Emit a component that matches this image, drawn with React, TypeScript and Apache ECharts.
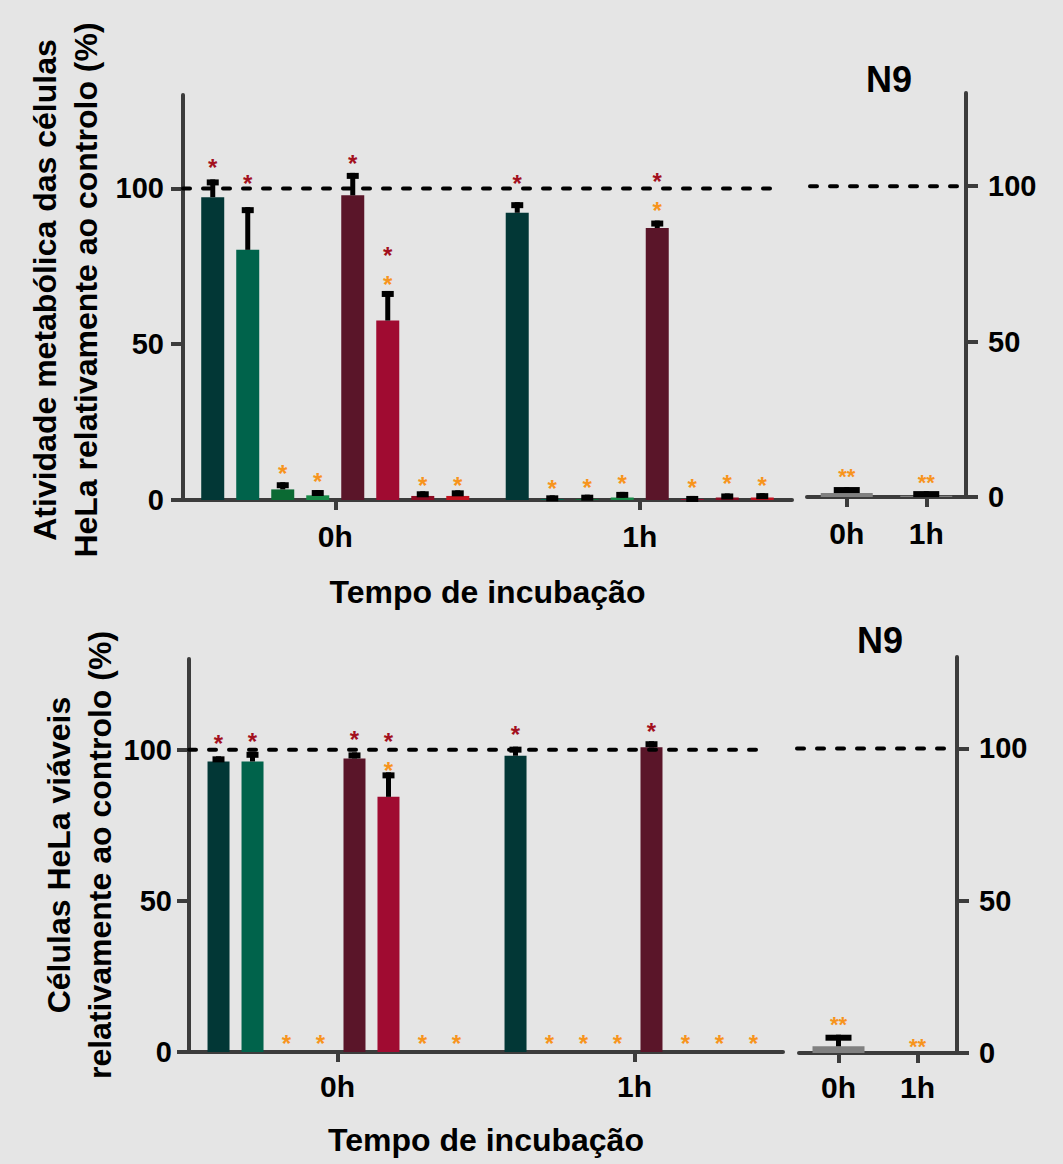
import React, { useEffect, useRef } from "react";
import * as echarts from "echarts";

// ---------- data ----------
const groups = ["0h", "1h"];
const yTicks = [0, 50, 100];
const yMax = 130;
const controlLevel = 100;

// Top chart: metabolic activity (%), 8 treatments per time point
const topMean0h = [97.2, 80.3, 3.4, 1.5, 97.8, 57.6, 1.3, 1.3];
const topErr0h = [102.9, 94.0, 5.7, 3.2, 105.0, 67.1, 2.8, 3.1];
const topMean1h = [92.2, 0.3, 0.3, 0.8, 87.3, 0.3, 0.8, 0.8];
const topErr1h = [95.6, 1.5, 1.7, 2.6, 89.7, 1.3, 2.1, 2.2];
const topRedStar0h = [108.4, 103.4, null, null, 109.8, 78.2, null, null];
const topOrangeStar0h = [null, null, 10.3, 7.7, null, 72.9, 6.4, 6.4];
const topRedStar1h = [103.4, null, null, null, 103.4, null, null, null];
const topOrangeStar1h = [null, 5.4, 5.9, 7.0, 95.1, 5.8, 7.1, 6.4];
const topN9Mean = [1.3, 0.4];
const topN9Err = [3.2, 1.9];
const topN9Star = [8.1, 6.3];

// Bottom chart: viable cells (%)
const botMean0h = [96.1, 96.1, 0, 0, 97.1, 84.4, 0, 0];
const botErr0h = [97.8, 99.3, null, null, 99.1, 92.5, null, null];
const botMean1h = [98.0, 0, 0, 0, 100.8, 0, 0, 0];
const botErr1h = [101.0, null, null, null, 102.8, null, null, null];
const botRedStar0h = [103.8, 104.5, null, null, 105.2, 103.6, null, null];
const botOrangeStar0h = [null, null, 4.7, 4.7, null, 95.8, 4.7, 4.7];
const botRedStar1h = [106.9, null, null, null, 107.8, null, null, null];
const botOrangeStar1h = [null, 4.7, 4.7, 4.7, null, 4.7, 4.7, 4.7];
const botN9Mean = [2.2, 0];
const botN9Err = [6.0, null];
const botN9Star = [10.9, 3.8];

// ---------- styles ----------
const barColors = ["#023736", "#00634b", "#0b6a33", "#178a47", "#5a1529", "#a00b31", "#8c0b22", "#c2121f"];
const starRed = "#a3101e";
const starOrange = "#f7941d";
const axisColor = "#3c3c3c";
const bg = "#e5e5e5";
const FF = '"Liberation Sans", Arial, Helvetica, sans-serif';
const starFont = 24;

function makeY(gi: number, position: string, margin: number) {
  return {
    gridIndex: gi,
    type: "value",
    min: 0,
    max: yMax,
    position,
    splitLine: { show: false },
    axisLine: { show: true, lineStyle: { color: axisColor, width: 4 } },
    axisTick: { show: true, length: 12, lineStyle: { color: axisColor, width: 4 }, customValues: yTicks },
    axisLabel: { margin, fontSize: 29, fontWeight: "bold", color: "#000", fontFamily: FF, customValues: yTicks },
  };
}

function makeX(gi: number, margin: number, name?: string, nameGap?: number) {
  const ax: any = {
    gridIndex: gi,
    type: "category",
    data: groups,
    boundaryGap: true,
    axisLine: { show: true, lineStyle: { color: axisColor, width: 4 } },
    axisTick: { show: true, alignWithLabel: true, length: 10, lineStyle: { color: axisColor, width: 4 } },
    axisLabel: { margin, fontSize: 30, fontWeight: "bold", color: "#000", fontFamily: FF, interval: 0 },
    splitLine: { show: false },
  };
  if (name) {
    ax.name = name;
    ax.nameLocation = "middle";
    ax.nameGap = nameGap;
    ax.nameTextStyle = { fontSize: 32, fontWeight: "bold", color: "#000", fontFamily: FF };
  }
  return ax;
}

// dashed control reference line, trimmed at its ends like the reference
function refLineSeries(gi: number, startTrim: number, endTrim: number) {
  return {
    type: "custom",
    xAxisIndex: gi,
    yAxisIndex: gi,
    z: 4,
    silent: true,
    data: [[0, controlLevel]],
    renderItem: (params: any, api: any) => {
      const cs = params.coordSys;
      const y = api.coord([0, api.value(1)])[1];
      return {
        type: "line",
        shape: { x1: cs.x + startTrim, y1: y, x2: cs.x + cs.width - endTrim, y2: y },
        style: { stroke: "#000", lineWidth: 4, lineDash: [7, 13], lineCap: "round" },
      };
    },
  };
}

function errorSeries(gi: number, items: number[][], spacing: number, nBars: number, capW: number) {
  return {
    type: "custom",
    xAxisIndex: gi,
    yAxisIndex: gi,
    z: 5,
    silent: true,
    data: items,
    renderItem: (params: any, api: any) => {
      const c = api.value(0);
      const i = api.value(1);
      const base = api.coord([c, api.value(2)]);
      const top = api.coord([c, api.value(3)]);
      const x = base[0] + (i - (nBars - 1) / 2) * spacing;
      const h = Math.max(0, base[1] - top[1]);
      return {
        type: "group",
        children: [
          { type: "rect", shape: { x: x - 2.5, y: top[1], width: 5, height: h }, style: { fill: "#000" } },
          { type: "rect", shape: { x: x - capW / 2, y: top[1], width: capW, height: 6 }, style: { fill: "#000" } },
        ],
      };
    },
  };
}

function starText(text: string, x: number, y: number, fs: number, color: string) {
  return {
    type: "text",
    x,
    y: y + fs * 0.23,
    style: {
      text,
      fill: color,
      font: `bold ${fs}px ${FF}`,
      align: "center",
      textAlign: "center",
      verticalAlign: "middle",
      textVerticalAlign: "middle",
    },
  };
}

// items: [category, barIndex, redLevel(-1 none), orangeLevel(-1 none)]
function starSeries(gi: number, items: number[][], spacing: number, nBars: number, text: string, fs: number) {
  return {
    type: "custom",
    xAxisIndex: gi,
    yAxisIndex: gi,
    z: 6,
    silent: true,
    data: items,
    renderItem: (params: any, api: any) => {
      const c = api.value(0);
      const i = api.value(1);
      const red = api.value(2);
      const orange = api.value(3);
      const hasR = red >= 0;
      const hasO = orange >= 0;
      const pr = hasR ? api.coord([c, red]) : null;
      const po = hasO ? api.coord([c, orange]) : null;
      const ref = (pr || po) as number[];
      const x = ref[0] + (i - (nBars - 1) / 2) * spacing;
      if (hasR && hasO) {
        // keep the stacked markers from touching each other
        const minSep = fs * 1.2;
        let yr = pr![1];
        let yo = po![1];
        if (yo - yr < minSep) {
          const mid = (yr + yo) / 2;
          yr = mid - minSep / 2;
          yo = mid + minSep / 2;
        }
        return {
          type: "group",
          children: [starText(text, x, yr, fs, starRed), starText(text, x, yo, fs, starOrange)],
        };
      }
      const p = (pr || po) as number[];
      return starText(text, x, p[1], fs, hasR ? starRed : starOrange);
    },
  };
}

function leftPanelSeries(
  gi: number,
  m0: number[], m1: number[], e0: (number | null)[], e1: (number | null)[],
  r0: (number | null)[], r1: (number | null)[], o0: (number | null)[], o1: (number | null)[],
  barW: number, gapPx: number, endTrim: number
) {
  const out: any[] = [];
  const gapPct = Math.round((gapPx / barW) * 1000) / 10 + "%";
  for (let i = 0; i < 8; i++) {
    out.push({
      type: "bar",
      xAxisIndex: gi,
      yAxisIndex: gi,
      data: [m0[i], m1[i]],
      barWidth: barW,
      barGap: gapPct,
      itemStyle: { color: barColors[i] },
      silent: true,
      z: 2,
    });
  }
  const spacing = barW + gapPx;
  const errItems: number[][] = [];
  const starItems: number[][] = [];
  const means = [m0, m1];
  const errs = [e0, e1];
  const reds = [r0, r1];
  const oranges = [o0, o1];
  for (let c = 0; c < 2; c++) {
    for (let i = 0; i < 8; i++) {
      const e = errs[c][i];
      if (e != null) errItems.push([c, i, means[c][i], e]);
      const r = reds[c][i];
      const o = oranges[c][i];
      if (r != null || o != null) starItems.push([c, i, r != null ? r : -1, o != null ? o : -1]);
    }
  }
  out.push(refLineSeries(gi, 0, endTrim));
  out.push(errorSeries(gi, errItems, spacing, 8, 12));
  out.push(starSeries(gi, starItems, spacing, 8, "*", starFont));
  return out;
}

function rightPanelSeries(gi: number, mean: number[], err: (number | null)[], stars: number[], startTrim: number, endTrim: number) {
  const errItems: number[][] = [];
  const starItems: number[][] = [];
  for (let c = 0; c < 2; c++) {
    const e = err[c];
    if (e != null) errItems.push([c, 0, mean[c], e]);
    starItems.push([c, 0, -1, stars[c]]);
  }
  return [
    {
      type: "bar",
      xAxisIndex: gi,
      yAxisIndex: gi,
      data: mean,
      barWidth: 52,
      itemStyle: { color: "#808080" },
      silent: true,
      z: 2,
    },
    refLineSeries(gi, startTrim, endTrim),
    errorSeries(gi, errItems, 0, 1, 26),
    starSeries(gi, starItems, 0, 1, "**", 22),
  ];
}

function rotText(text: string, x: number, y: number, fs: number) {
  return {
    type: "text",
    x,
    y,
    rotation: Math.PI / 2,
    style: {
      text,
      fill: "#000",
      font: `bold ${fs}px ${FF}`,
      align: "center",
      textAlign: "center",
      verticalAlign: "middle",
      textVerticalAlign: "middle",
    },
  };
}

function plainText(text: string, x: number, y: number, fs: number) {
  return {
    type: "text",
    x,
    y,
    style: {
      text,
      fill: "#000",
      font: `bold ${fs}px ${FF}`,
      align: "center",
      textAlign: "center",
      verticalAlign: "middle",
      textVerticalAlign: "middle",
    },
  };
}

export default function App() {
  const ref = useRef<HTMLDivElement>(null);
  useEffect(() => {
    if (!ref.current) return;
    const chart = echarts.init(ref.current, undefined, { renderer: "svg" });
    const option: any = {
      animation: false,
      backgroundColor: bg,
      grid: [
        { left: 183, top: 95, width: 609, height: 405 },
        { left: 807, top: 93, width: 159, height: 404 },
        { left: 189, top: 659, width: 594, height: 393 },
        { left: 799, top: 657, width: 158, height: 396 },
      ],
      xAxis: [
        makeX(0, 21, "Tempo de incubação", 76),
        makeX(1, 21),
        makeX(2, 19, "Tempo de incubação", 72),
        makeX(3, 19),
      ],
      yAxis: [makeY(0, "left", 19), makeY(1, "right", 22), makeY(2, "left", 17), makeY(3, "right", 22)],
      series: [
        ...leftPanelSeries(0, topMean0h, topMean1h, topErr0h, topErr1h, topRedStar0h, topRedStar1h, topOrangeStar0h, topOrangeStar1h, 23, 12, 20),
        ...rightPanelSeries(1, topN9Mean, topN9Err, topN9Star, 3, 6),
        ...leftPanelSeries(2, botMean0h, botMean1h, botErr0h, botErr1h, botRedStar0h, botRedStar1h, botOrangeStar0h, botOrangeStar1h, 22, 12, 17),
        ...rightPanelSeries(3, botN9Mean, botN9Err, botN9Star, -2, 12),
      ],
      graphic: [
        rotText("Atividade metabólica das células", 45, 290, 32),
        rotText("HeLa relativamente ao controlo (%)", 86, 290, 32),
        rotText("Células HeLa viáveis", 59, 855, 32),
        rotText("relativamente ao controlo (%)", 100, 855, 32),
        plainText("N9", 889, 79, 36),
        plainText("N9", 880, 640, 36),
      ],
    };
    chart.setOption(option);
    return () => chart.dispose();
  }, []);
  return (
    <div
      ref={ref}
      style={{ position: "absolute", left: 0, top: 0, width: 1063, height: 1164, background: bg }}
    />
  );
}
